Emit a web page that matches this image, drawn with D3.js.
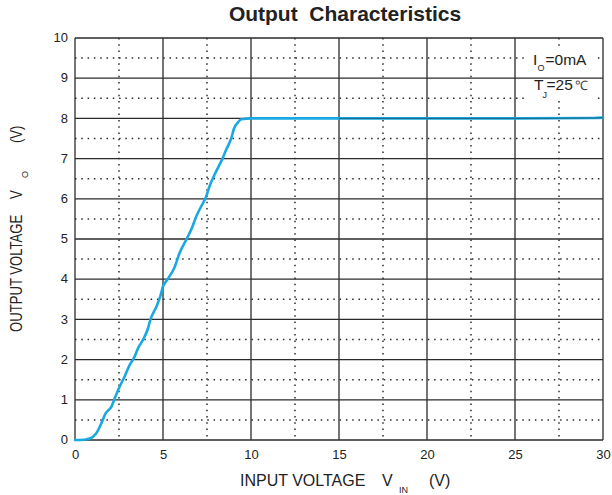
<!DOCTYPE html>
<html>
<head>
<meta charset="utf-8">
<script src="https://cdn.jsdelivr.net/npm/d3@7"></script>
<style>
  html, body { margin: 0; padding: 0; background: #fff; }
  svg { display: block; font-family: "Liberation Sans", Arial, Helvetica, sans-serif; }
</style>
</head>
<body>
<svg id="chart" width="612" height="495"></svg>
<script>
// ---- data ----
const vin  = [0, 0.27, 0.84, 1.21, 1.5, 1.74, 2.07, 2.26, 2.54, 2.82, 3.11, 3.34, 3.58, 3.86, 4.15, 4.28, 4.63, 4.87, 5.0, 5.23, 5.66, 5.95, 6.33, 6.61, 6.9, 7.18, 7.43, 7.65, 7.94, 8.18, 8.38, 8.6, 8.89, 9.02, 9.26, 9.45, 10, 15, 20, 25, 29.5, 30];
const vout = [0, 0, 0.04, 0.17, 0.42, 0.66, 0.83, 1.04, 1.33, 1.58, 1.87, 2.03, 2.28, 2.49, 2.78, 2.99, 3.32, 3.61, 3.82, 3.98, 4.3, 4.66, 4.99, 5.24, 5.57, 5.82, 6.03, 6.32, 6.61, 6.82, 7.0, 7.23, 7.52, 7.73, 7.9, 7.98, 8.0, 8.0, 8.0, 8.0, 8.01, 8.02];
const xMajor = [0, 5, 10, 15, 20, 25, 30];
const xMinor = [2.5, 7.5, 12.5, 17.5, 22.5, 27.5];
const yMajor = [0, 1, 2, 3, 4, 5, 6, 7, 8, 9, 10];
const yMinor = [0.5, 1.5, 2.5, 3.5, 4.5, 5.5, 6.5, 7.5, 8.5, 9.5];
const titleText = "Output  Characteristics";

const svg = d3.select("#chart");
const L = 75, R = 603, T = 38, B = 440;
const x = d3.scaleLinear().domain([0, 30]).range([L, R]);
const y = d3.scaleLinear().domain([0, 10]).range([B, T]);
const ink = "#2b2b2b";

// minor dotted grid
const g = svg.append("g");
g.selectAll("line.vmin").data(xMinor).join("line")
  .attr("x1", d => x(d)).attr("x2", d => x(d)).attr("y1", T).attr("y2", B)
  .attr("stroke", ink).attr("stroke-width", 1.5).attr("stroke-dasharray", "1.5,4.8");
g.selectAll("line.hmin").data(yMinor).join("line")
  .attr("x1", L).attr("x2", R).attr("y1", d => y(d)).attr("y2", d => y(d))
  .attr("stroke", ink).attr("stroke-width", 1.5).attr("stroke-dasharray", "1.5,4.8");

// white box behind legend
svg.append("rect").attr("x", x(25) + 10).attr("y", y(9.77)).attr("width", 71).attr("height", 53).attr("fill", "#fff");

// major solid grid
svg.append("g").selectAll("line").data(xMajor).join("line")
  .attr("x1", d => x(d)).attr("x2", d => x(d)).attr("y1", T).attr("y2", B)
  .attr("stroke", ink).attr("stroke-width", 1.3);
svg.append("g").selectAll("line").data(yMajor).join("line")
  .attr("x1", L).attr("x2", R).attr("y1", d => y(d)).attr("y2", d => y(d))
  .attr("stroke", ink).attr("stroke-width", 1.3);

// axes tick labels
const xAxis = d3.axisBottom(x).tickValues(xMajor).tickSize(0).tickPadding(0);
const xa = svg.append("g").attr("transform", `translate(0,${B})`).call(xAxis);
xa.select(".domain").remove();
xa.selectAll("text").attr("font-size", 13).attr("fill", "#222").attr("dy", null).attr("y", 19)
  .attr("font-family", "Liberation Sans, Arial, sans-serif");

const yAxis = d3.axisLeft(y).tickValues(yMajor).tickSize(0).tickPadding(7);
const ya = svg.append("g").attr("transform", `translate(${L},0)`).call(yAxis);
ya.select(".domain").remove();
ya.selectAll("text").attr("font-size", 13).attr("fill", "#222").attr("dy", "0.28em")
  .attr("font-family", "Liberation Sans, Arial, sans-serif");

// curve
const pts = vin.map((v, i) => [v, vout[i]]);
const line = d3.line().x(d => x(d[0])).y(d => y(d[1])).curve(d3.curveMonotoneX);
svg.append("path").datum(pts).attr("d", line)
  .attr("fill", "none").attr("stroke", "#1aa8e2").attr("stroke-width", 2.6)
  .attr("stroke-linejoin", "round").attr("stroke-linecap", "round");
svg.append("path").datum(pts.filter(d => d[0] >= 12)).attr("d", line)
  .attr("fill", "none").attr("stroke", "#1b4f66").attr("stroke-width", 1).attr("opacity", 0.75);

// title
svg.append("text").attr("x", 345).attr("y", 21).attr("text-anchor", "middle")
  .attr("font-size", 21).attr("font-weight", "bold").attr("fill", "#222")
  .style("white-space", "pre").text(titleText);

// legend text
const leg = svg.append("g").attr("fill", "#222");
leg.append("text").attr("x", 533).attr("y", 65).attr("font-size", 15.5).text("I");
leg.append("text").attr("x", 537.5).attr("y", 71).attr("font-size", 9).text("O");
leg.append("text").attr("x", 545.5).attr("y", 65).attr("font-size", 15.5).text("=0mA");
leg.append("text").attr("x", 534).attr("y", 90).attr("font-size", 15.5).text("T");
leg.append("text").attr("x", 542.5).attr("y", 98).attr("font-size", 9).text("J");
leg.append("text").attr("x", 546.5).attr("y", 90).attr("font-size", 15.5).text("=25");
leg.append("text").attr("x", 575).attr("y", 90).attr("font-size", 13).attr("fill", "#444").text("℃");

// x axis title
const xt = svg.append("g").attr("fill", "#222");
xt.append("text").attr("x", 240).attr("y", 486).attr("font-size", 16).text("INPUT VOLTAGE");
xt.append("text").attr("x", 382).attr("y", 486).attr("font-size", 16).text("V");
xt.append("text").attr("x", 399).attr("y", 493).attr("font-size", 9).text("IN");
xt.append("text").attr("x", 429).attr("y", 486).attr("font-size", 16).text("(V)");

// y axis title
const yt = svg.append("g").attr("fill", "#222");
yt.append("text").attr("transform", "translate(22,332) rotate(-90) scale(0.82,1)").attr("font-size", 16).text("OUTPUT VOLTAGE");
yt.append("text").attr("transform", "translate(22,199) rotate(-90) scale(0.82,1)").attr("font-size", 16).text("V");
yt.append("text").attr("transform", "translate(28,178) rotate(-90)").attr("font-size", 9).text("O");
yt.append("text").attr("transform", "translate(22,143) rotate(-90) scale(0.82,1)").attr("font-size", 16).text("(V)");
</script>
</body>
</html>
